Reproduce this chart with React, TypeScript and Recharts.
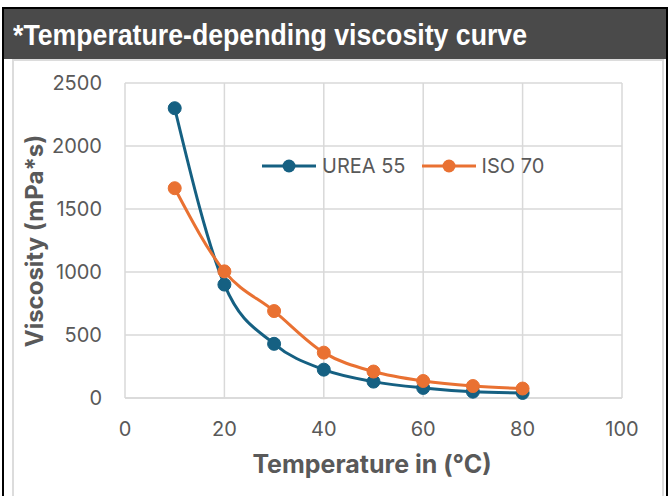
import { CartesianGrid, Legend, Line, LineChart, XAxis, YAxis } from 'recharts'

const temps = [10, 20, 30, 40, 50, 60, 70, 80]
const urea55 = [2300, 900, 430, 225, 130, 80, 50, 40]
const iso70 = [1665, 1005, 690, 360, 210, 135, 95, 75]
const xTicks = [0, 20, 40, 60, 80, 100]
const yTicks = [0, 500, 1000, 1500, 2000, 2500]

const seriesNames = ['UREA 55', 'ISO 70']
const colors = ['#156082', '#E97132']

const data = temps.map((t, i) => ({ temp: t, urea: urea55[i], iso: iso70[i] }))

const FONT = 'Inter, "Liberation Sans", sans-serif'
const TEXT = '#595959'

const LegendBox = () => (
  <div style={{ display: 'flex', alignItems: 'center', fontFamily: FONT, fontSize: 20, color: TEXT }}>
    {seriesNames.map((name, i) => (
      <div key={name} style={{ display: 'flex', alignItems: 'center', marginRight: 16 }}>
        <svg width={54} height={14} style={{ marginRight: 6 }}>
          <line x1={0} y1={7} x2={54} y2={7} stroke={colors[i]} strokeWidth={3} />
          <circle cx={27} cy={7} r={6.5} fill={colors[i]} />
        </svg>
        <span>{name}</span>
      </div>
    ))}
  </div>
)

const YTitle = () => (
  <text
    x={43}
    y={241}
    transform="rotate(-90, 43, 241)"
    textAnchor="middle"
    fill={TEXT}
    fontFamily={FONT}
    fontWeight="bold"
    fontSize={24}
  >
    Viscosity (mPa*s)
  </text>
)

const XTitle = () => (
  <text x={372} y={473} textAnchor="middle" fill={TEXT} fontFamily={FONT} fontWeight="bold" fontSize={25}>
    Temperature in (°C)
  </text>
)

const App = () => {
  return (
    <div style={{ position: 'absolute', left: 0, top: 0, width: 672, height: 496, background: '#fff', overflow: 'hidden' }}>
      {/* frame + title bar */}
      <div style={{ position: 'absolute', left: 2, top: 7, width: 666, height: 500, border: '2px solid #000', boxSizing: 'border-box' }} />
      <div
        style={{
          position: 'absolute',
          left: 4,
          top: 9,
          width: 662,
          height: 50,
          background: '#4a4a4a',
          color: '#fff',
          fontFamily: '"Liberation Sans", sans-serif',
          fontWeight: 'bold',
          fontSize: 29,
          lineHeight: '52px',
          paddingLeft: 9,
          boxSizing: 'border-box',
          whiteSpace: 'nowrap',
        }}
      >
        {/* narrow title face: squeeze a regular bold face */}
        <span style={{ display: 'inline-block', transform: 'scaleX(0.92)', transformOrigin: 'left center' }}>
          *Temperature-depending viscosity curve
        </span>
      </div>
      <div style={{ position: 'absolute', left: 12, top: 59, width: 652, height: 450, border: '2px solid #dcdcdc', boxSizing: 'border-box' }} />
      <div style={{ position: 'absolute', left: 0, top: 0 }}>
        {/* legend reserves 24px at the bottom, so the x axis is 74 instead of 98 */}
        <LineChart width={672} height={496} data={data} margin={{ top: 83, right: 50, bottom: 0, left: 0 }}>
          <CartesianGrid stroke="#d9d9d9" strokeWidth={1.5} />
          <XAxis
            dataKey="temp"
            type="number"
            domain={[0, 100]}
            ticks={xTicks}
            height={74}
            tickLine={false}
            tickSize={0}
            tickMargin={24}
            axisLine={{ stroke: '#d9d9d9', strokeWidth: 1.5 }}
            tick={{ fill: TEXT, fontSize: 20, fontFamily: FONT }}
            label={<XTitle />}
          />
          <YAxis
            type="number"
            domain={[0, 2500]}
            ticks={yTicks}
            width={125}
            tickLine={false}
            tickSize={0}
            tickMargin={23}
            axisLine={false}
            tick={{ fill: TEXT, fontSize: 20, fontFamily: FONT }}
            label={<YTitle />}
          />
          <Legend
            content={<LegendBox />}
            wrapperStyle={{ position: 'absolute', left: 262, top: 154, width: 320, height: 24 }}
          />
          <Line
            name={seriesNames[0]}
            type="monotone"
            dataKey="urea"
            stroke={colors[0]}
            strokeWidth={3}
            dot={{ r: 6.5, fill: colors[0], stroke: colors[0], strokeWidth: 1 }}
            isAnimationActive={false}
          />
          <Line
            name={seriesNames[1]}
            type="monotone"
            dataKey="iso"
            stroke={colors[1]}
            strokeWidth={3}
            dot={{ r: 6.5, fill: colors[1], stroke: colors[1], strokeWidth: 1 }}
            isAnimationActive={false}
          />
        </LineChart>
      </div>
    </div>
  )
}

export default App
